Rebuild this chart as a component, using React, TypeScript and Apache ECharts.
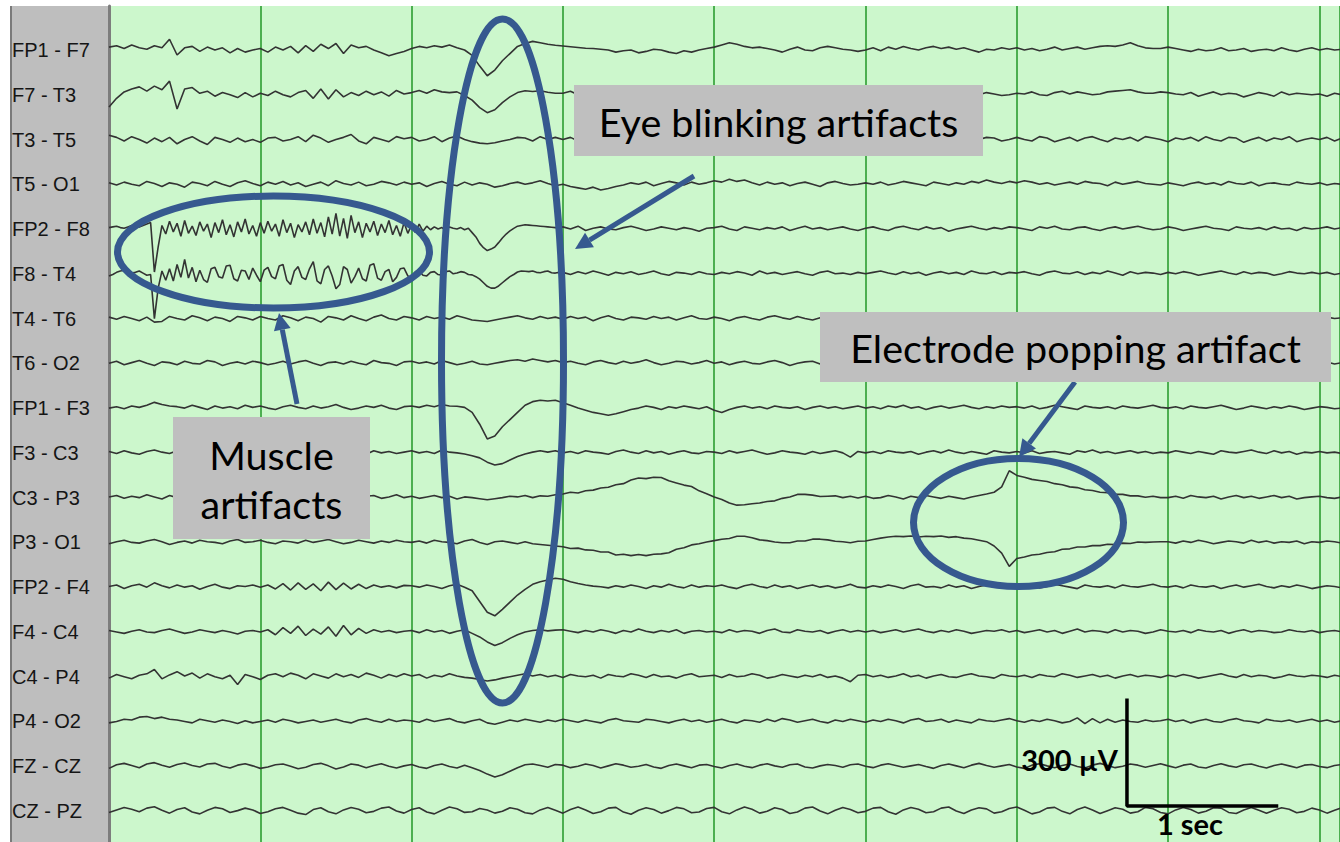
import React, { useEffect, useRef } from "react";
import * as echarts from "echarts";

const CHANNELS = ["FP1 - F7", "F7 - T3", "T3 - T5", "T5 - O1", "FP2 - F8", "F8 - T4", "T4 - T6", "T6 - O2", "FP1 - F3", "F3 - C3", "C3 - P3", "P3 - O1", "FP2 - F4", "F4 - C4", "C4 - P4", "P4 - O2", "FZ - CZ", "CZ - PZ"];
const STEP = 0.05; // seconds between samples (rows longer than 20 are sampled finer)
const SPACING = 125; // µV between channel baselines
const X_MAX = 8.136;
const Y_MIN = -86.6;
const Y_MAX = 2247.8;
const SCALE_T0 = 6.728;
const SCALE_V0 = 13.9;
const SCALE_UV = 300;
const SCALE_SEC = 1;

// µV values, one row per second
const FP1_F7 = [
  [8,12,4,14,6,2,12,6,30,-14,6,10,-4,8,0,6,-8,4,-6,0],
  [4,-6,8,0,10,-8,12,-4,16,4,18,-10,14,6,10,0,-8,-16,-10,-4],
  [4,10,6,12,8,14,6,0,-15,-45,-72,-56,-30,-10,10,18,24,20,16,13],
  [11,9,7,5,4,2,0,-6,-2,0,-8,-4,2,0,-6,-10,-2,-6,0,4],
  [8,14,20,16,10,6,8,4,0,-6,2,8,0,-2,6,10,6,2,0,-4],
  [0,6,-2,8,2,10,4,0,6,10,4,8,2,6,0,-6,2,0,6,2],
  [6,0,4,-2,2,8,0,4,8,2,6,10,12,10,14,20,12,6,4,4],
  [8,4,0,-4,2,-2,0,6,-2,0,4,-4,0,2,-2,6,0,-4,2,6],
  [0,4,0,2],
];
const F7_T3 = [
  [-34,-10,8,16,22,10,24,14,38,-40,16,20,4,10,-4,6,0,-8,6,-6],
  [4,-2,10,0,-6,6,12,-10,16,-12,14,-6,6,-2,10,0,8,-4,12,2],
  [6,12,4,14,8,6,8,-2,-15,-36,-50,-42,-22,-6,6,11,9,11,7,4],
  [4,10,0,8,2,-6,4,0,8,2,-4,6,0,10,4,-2,2,8,0,4],
  [2,8,0,-6,4,10,2,0,8,4,-4,2,0,-8,-2,6,0,2,8,4],
  [0,6,8,-2,2,0,6,10,2,8,0,4,-4,2,8,0,6,2,-2,0],
  [4,2,8,0,-2,6,10,2,8,4,0,2,8,10,12,14,8,4,4,8],
  [6,2,0,6,-4,2,8,0,4,2,-6,0,6,2,-4,8,0,4,2,0],
  [2,-4,4,0],
];
const T3_T5 = [
  [12,6,-4,8,0,-10,4,-6,6,-12,0,8,-4,-14,6,0,-8,4,-6,0],
  [-8,4,6,-4,0,8,-6,12,4,-8,0,6,14,-4,-12,6,0,-6,8,2],
  [6,-4,0,8,-6,4,10,0,-6,-10,-12,-9,-4,0,6,4,-4,8,0,6],
  [0,6,-4,8,4,-6,0,6,12,4,-4,8,0,-8,6,4,-6,0,8,-4],
  [4,-6,0,8,-4,6,0,-12,-4,6,4,-4,8,0,-6,4,6,-4,0,6],
  [-4,6,0,4,8,0,-6,4,-4,8,6,0,-6,4,-8,0,6,4,-4,0],
  [6,0,-4,8,4,-6,0,6,-4,4,8,0,-6,4,0,6,-4,8,4,0],
  [-6,4,0,6,-4,8,0,-4,6,4,-8,0,6,-4,4,0,8,-6,0,4],
  [0,6,-4,4],
];
const T5_O1 = [
  [4,-2,6,0,-4,8,2,-6,4,0,-8,6,2,-4,8,0,-6,4,10,2],
  [-4,6,0,8,-2,4,-6,0,6,-4,10,2,-2,6,-4,0,8,4,-2,6],
  [0,4,-6,2,8,0,-4,6,-2,4,0,-8,-4,2,6,0,4,10,2,-4],
  [0,-6,-10,-14,-8,-16,-12,-6,-2,4,0,6,-4,2,8,4,-2,6,0,4],
  [10,6,14,8,12,4,-2,6,0,4,-4,2,6,0,-6,4,8,2,-2,0],
  [4,0,6,-2,2,8,4,0,-4,6,2,-2,4,0,8,4,12,6,2,8],
  [4,10,6,0,4,-2,2,6,0,8,4,2,-4,6,0,4,8,2,0,-2],
  [4,0,-4,2,6,0,4,-2,8,2,0,6,-4,2,4,0,-2,6,2,0],
  [4,-2,2,0],
];
const FP2_F8 = [
  [4,6,8,4,2,6,10,8,6,10,14,18,-120,-50,10,-14,22,-8,16,-20,24,-12,8,-18,20,-6,14,-24,18,-10,26,-16,12,-22,20,-8,28,-14,10,-20],
  [18,-12,22,-6,14,-20,26,-10,16,-24,12,-8,20,-16,28,-12,18,-22,34,-14,44,-20,30,-26,38,-10,20,-24,16,-8,22,-18,14,-10,24,-16,10,-20,18,-12],
  [12,-10,14,-6,8,-2,6,0,4,-4,6,2,0,4,-2,2,-10,-22,-40,-52,-60,-56,-50,-38,-25,-14,-5,2,8,10,12,11,10,9,8,7,6,5,4,4],
  [6,0,8,-4,2,6,0,-2,4,8,2,-4,0,6,2,-2,4,0,-6,2],
  [4,8,0,-4,6,2,-2,4,0,6,-4,2,8,0,4,-2,2,6,0,-4],
  [2,6,0,-4,4,8,2,-2,6,0,4,-6,0,4,8,2,-2,4,0,6],
  [4,0,-4,6,2,8,0,-2,4,6,0,-4,2,6,0,4,8,2,-2,0],
  [6,2,-4,0,4,8,2,0,-4,6,2,0,4,-2,6,0,2,-4,4,0],
  [2,6,0,4],
];
const F8_T4 = [
  [-6,-2,4,8,10,6,2,4,8,2,-4,-2,-125,-40,8,-18,14,-20,26,-10,40,-12,18,-22,10,-16,-24,14,18,-8,-12,22,24,-14,-20,10,8,-16,16,-4],
  [-22,10,18,-8,-14,22,26,-18,-30,8,20,-10,-16,14,34,-20,-28,12,22,-6,-42,-30,20,12,-26,-8,16,-14,-20,24,28,-12,-18,6,12,-22,-10,14,16,-6],
  [-10,6,8,-4,-6,4,6,-2,-4,6,8,0,2,6,4,-2,-3,-8,-15,-25,-35,-40,-40,-34,-25,-16,-8,-2,5,8,7,6,8,4,3,6,8,3,2,4],
  [4,-2,6,0,8,2,-4,4,0,6,-2,2,8,0,-4,4,2,-2,6,0],
  [-2,4,0,6,2,-4,8,0,4,-2,2,6,0,-4,4,8,0,2,-2,4],
  [0,4,8,2,-2,6,0,4,-4,2,6,0,4,-2,8,2,0,6,-2,4],
  [2,6,0,-4,4,8,2,0,6,-2,4,0,8,2,-4,6,0,4,2,-2],
  [4,0,6,2,-4,0,4,8,2,-2,6,0,4,2,-4,0,6,2,0,4],
  [0,4,-2,2],
];
const T4_T6 = [
  [4,-2,6,0,-6,4,-10,-8,6,0,-4,8,2,-6,4,0,-8,6,2,-4],
  [6,0,-4,8,2,-6,4,0,-10,6,2,-4,8,0,-6,4,10,0,-4,6],
  [2,-4,6,0,4,-2,8,2,-4,-6,-8,-4,0,4,8,2,-2,6,0,4],
  [-2,6,0,4,-6,2,8,0,-4,4,2,-2,6,0,4,-4,2,8,0,-2],
  [4,0,-6,2,6,0,-4,4,8,2,-2,6,0,-4,2,4,-2,6,0,4],
  [0,6,2,-4,4,0,8,2,-2,4,6,0,-6,2,4,0,-4,6,2,0],
  [4,-2,6,0,2,-4,4,8,0,-2,6,2,0,4,-4,2,6,0,-2,4],
  [2,0,4,-4,6,2,0,-2,4,8,0,-4,2,6,0,4,-2,2,0,4],
  [-2,4,0,2],
];
const T6_O2 = [
  [0,6,-4,2,8,0,-6,4,2,-4,6,0,-2,8,4,-6,0,4,-2,6],
  [2,-4,0,6,-2,4,8,0,-6,2,4,-2,6,0,-4,8,2,0,-6,4],
  [6,0,4,-2,8,2,-4,0,6,-2,-4,0,4,8,10,6,12,8,4,8],
  [2,6,0,-4,4,8,2,-2,6,0,4,10,2,-4,0,6,4,-2,2,8],
  [0,4,-4,2,6,0,-2,4,8,2,-6,0,4,6,-2,2,0,4,-4,2],
  [6,0,4,-2,2,8,0,4,-4,2,6,0,-2,4,8,2,0,-4,6,2],
  [0,4,6,-2,2,0,8,4,-2,6,0,4,2,-4,0,6,2,-2,4,0],
  [4,-2,2,6,0,-4,4,2,8,0,-2,4,6,0,2,-4,4,0,6,2],
  [0,4,-2,2],
];
const FP1_F3 = [
  [0,4,-2,6,2,8,16,10,6,4,0,8,2,-4,6,0,4,-2,8,2],
  [6,0,-4,4,8,2,-2,6,0,4,10,2,-4,0,6,2,8,0,-4,4],
  [6,2,8,4,10,6,5,2,-12,-45,-86,-78,-52,-32,-12,8,18,22,20,22],
  [15,8,0,-6,-12,-16,-20,-16,-10,-4,0,6,2,-4,4,0,6,2,-2,4],
  [-6,-12,-4,2,6,0,4,-2,6,2,0,4,-4,2,6,0,4,-2,2,6],
  [0,4,-2,6,2,8,0,4,-4,2,6,0,4,8,2,-2,4,0,6,2],
  [4,0,6,-2,2,8,4,0,-4,6,2,0,4,-2,6,2,0,4,8,2],
  [0,4,-2,6,2,0,4,8,2,-4,0,6,2,-2,4,0,6,2,-4,0],
  [4,2,-2,0],
];
const F3_C3 = [
  [4,-2,6,0,-4,4,8,2,-2,6,0,-4,4,2,-6,0,4,8,2,-2],
  [0,6,-2,4,8,0,-4,6,2,-2,4,0,8,2,-4,6,0,4,-2,2],
  [6,0,4,-2,8,2,0,-3,-8,-14,-26,-34,-30,-20,-10,-3,2,6,2,6],
  [0,4,-2,6,2,0,-4,4,8,2,-2,6,0,4,-4,2,6,0,-2,4],
  [2,-2,6,0,4,8,2,-4,0,6,2,0,-4,4,-2,2,6,0,-12,4],
  [0,4,-2,6,2,0,4,-4,2,6,0,8,2,-2,4,0,-4,6,2,0],
  [4,0,6,-2,2,4,0,-4,6,2,8,0,4,-2,2,6,0,4,-2,2],
  [0,6,2,-2,4,0,-4,6,2,0,4,8,2,-2,6,0,4,-4,2,0],
  [4,0,2,-2],
];
const C3_P3 = [
  [2,6,-2,4,0,8,2,-4,6,0,4,-2,2,8,0,-4,6,2,0,4],
  [-2,4,0,6,2,-4,4,8,0,-2,6,2,-4,0,4,6,-2,2,8,0],
  [4,-2,2,6,0,4,-4,2,0,-3,-6,-3,0,4,2,6,0,5,4,8],
  [10,15,13,19,21,27,29,36,39,49,55,53,57,56,47,41,35,31,19,11],
  [2,-5,-15,-21,-20,-17,-15,-11,-9,-2,2,9,9,7,3,4,5,0,4,-1],
  [4,-2,0,6,2,-4,4,0,6,2,-2,4,0,-4,2,6,10,15,30,75],
  [62,57,51,48,45,39,36,30,28,22,20,15,14,9,9,5,5,1,4,0],
  [0,4,-2,6,2,0,4,-4,2,6,0,4,-2,2,6,0,4,-4,0,2],
  [4,0,-2,2],
];
const P3_O1 = [
  [-4,2,6,0,-2,4,8,2,-6,0,4,-2,6,2,0,-4,4,8,0,2],
  [6,0,-4,4,2,-2,6,0,4,8,2,-4,0,6,2,-2,4,0,6,2],
  [0,4,-2,6,2,0,-4,4,8,0,-6,2,4,0,-4,2,-4,-6,-8,-10],
  [-12,-17,-16,-21,-22,-27,-27,-35,-33,-37,-34,-37,-33,-32,-29,-19,-15,-7,-4,1],
  [5,9,11,17,17,13,7,5,1,-1,-1,4,4,9,9,7,3,2,-1,3],
  [4,8,12,15,17,16,18,15,17,16,18,14,16,12,10,6,2,-10,-30,-67],
  [-45,-41,-35,-33,-28,-26,-19,-18,-13,-13,-9,-9,-5,-6,-2,-3,1,0,1,2],
  [2,-2,4,0,6,2,-4,0,4,2,-2,6,0,4,-2,2,0,4,-4,2],
  [0,4,2,-2],
];
const FP2_F4 = [
  [2,6,-4,4,8,0,12,4,-2,6,0,4,-6,2,8,0,-4,4,2,6],
  [0,6,-5,10,-8,12,-6,9,-10,14,-7,11,-5,8,-4,6,0,4,-2,5],
  [4,0,6,2,-4,4,8,0,-10,-40,-70,-80,-62,-42,-22,-6,8,15,20,25],
  [22,15,10,6,3,1,-2,4,0,6,2,-4,4,0,8,2,-2,6,0,4],
  [2,6,0,-4,4,8,2,-2,6,0,4,-4,2,6,0,4,-2,2,8,0],
  [-2,4,0,6,2,-4,4,8,0,2,-2,6,0,4,-4,2,6,0,4,-2],
  [6,0,4,-2,2,8,4,0,-4,6,2,0,4,-2,6,2,0,4,8,2],
  [0,4,-2,6,2,0,4,-4,2,6,0,4,8,2,-2,4,0,6,2,-4],
  [0,4,2,-2],
];
const F4_C4 = [
  [4,0,-4,2,6,0,-2,4,8,2,-4,0,6,2,-2,4,0,-6,2,4],
  [0,6,-8,12,-4,16,-10,8,-6,14,-12,18,-8,10,-4,6,0,4,-2,2],
  [4,-2,6,0,4,-4,2,6,-4,-14,-28,-38,-30,-18,-8,0,4,6,3,5],
  [6,2,-2,4,0,6,2,-4,4,0,8,2,-2,4,0,6,-4,2,4,0],
  [2,-2,6,0,4,2,-4,4,8,0,-2,6,2,0,4,-4,2,6,0,4],
  [0,4,-2,2,6,0,4,8,2,-2,4,0,6,2,-4,0,4,2,6,0],
  [4,-2,2,6,0,4,-4,2,8,0,4,2,-2,6,0,4,2,-4,0,6],
  [2,0,4,-2,6,2,0,4,-4,2,6,0,4,2,-2,0,6,2,0,4],
  [-2,2,4,0],
];
const C4_P4 = [
  [-4,6,0,-6,4,8,20,-6,5,14,2,10,-4,8,0,-6,4,-22,6,0],
  [-8,4,8,0,10,4,-6,8,2,-4,8,0,6,-2,10,4,-4,6,0,8],
  [2,6,-4,4,0,8,2,-2,-4,-8,-12,-9,-4,0,4,8,2,6,0,4],
  [-2,6,2,0,4,-4,6,2,0,8,4,-2,6,0,2,-4,4,8,0,2],
  [4,-2,6,0,2,8,4,-4,0,6,2,-2,4,0,6,-2,2,-4,-14,4],
  [6,0,4,-2,2,8,0,4,-4,2,6,0,-2,4,8,2,0,-4,6,2],
  [0,4,-2,6,2,0,8,4,-2,2,6,0,4,-4,2,6,0,4,2,-2],
  [4,0,6,2,-4,0,4,8,2,-2,6,0,4,2,-4,0,6,2,0,4],
  [2,-2,4,0],
];
const P4_O2 = [
  [-4,0,6,4,12,14,8,12,6,4,0,-4,6,2,-2,4,0,-6,2,-4],
  [0,4,-2,6,2,-4,0,4,-2,2,6,0,-4,4,8,2,-2,6,0,4],
  [2,-2,6,0,4,8,0,-4,2,6,-4,-8,-2,4,0,6,2,-2,4,0],
  [6,2,-2,4,0,-4,4,8,2,0,-2,6,4,0,-4,2,6,0,4,-2],
  [2,6,0,-4,4,2,-2,6,0,8,4,-2,2,6,0,-4,4,0,6,2],
  [-2,4,0,6,2,-4,4,8,0,2,6,-2,4,0,-4,6,2,0,4,8],
  [2,-2,4,0,6,2,-4,0,10,-6,8,-4,6,-2,4,0,-2,4,0,2],
  [6,0,4,-4,2,6,0,-2,4,8,2,0,-4,6,2,0,4,-2,2,6],
  [0,4,-2,2],
];
const FZ_CZ = [
  [-6,4,8,2,-4,6,10,3,-3,5,9,2,-2,6,8,0,-5,3,7,1],
  [-6,-2,4,6,0,-7,-3,5,8,1,-8,-2,6,3,-4,2,7,0,-5,1],
  [5,-2,-6,2,6,-1,-5,3,-4,-12,-22,-30,-24,-14,-4,4,6,2,-3,5],
  [3,-4,0,6,2,-5,1,7,3,-3,0,5,-2,-6,2,6,1,-4,3,5],
  [-1,-5,2,6,0,-4,3,7,1,-3,4,6,-2,-5,1,5,2,-3,4,6],
  [0,-4,3,7,2,-3,1,5,-1,-6,2,6,1,-4,3,8,2,-3,1,5],
  [-2,-6,3,7,1,-4,2,6,-1,-5,3,8,2,-4,0,6,3,-3,2,7],
  [1,-4,3,6,-2,-5,2,7,1,-3,4,6,0,-5,2,6,1,-4,3,5],
  [-1,-4,2,5],
];
const CZ_PZ = [
  [-4,3,10,5,-2,8,12,2,-6,4,9,-3,-8,2,10,6,-4,1,8,3],
  [-7,-2,6,10,2,-6,-10,4,9,-2,-8,3,10,5,-5,-1,8,11,0,-6],
  [4,9,-3,-8,2,11,6,-4,-2,7,3,-6,-1,9,5,-5,-8,3,10,2],
  [-6,4,11,3,-7,-2,8,10,-3,-9,2,9,4,-6,1,10,6,-5,-3,7],
  [10,-2,-8,3,11,5,-6,-1,9,4,-7,-3,8,11,0,-8,2,10,4,-5],
  [-1,8,10,-2,-9,3,10,5,-5,-2,8,11,0,-7,3,9,6,-6,-2,7],
  [11,2,-8,-3,8,10,-1,-8,4,11,3,-7,1,9,5,-6,-2,10,6,-4],
  [-8,3,10,4,-6,-1,9,8,-4,-7,3,10,2,-6,2,9,5,-5,-1,8],
  [3,-6,2,9],
];

const TRACES = [FP1_F7, F7_T3, T3_T5, T5_O1, FP2_F8, F8_T4, T4_T6, T6_O2, FP1_F3, F3_C3, C3_P3, P3_O1, FP2_F4, F4_C4, C4_P4, P4_O2, FZ_CZ, CZ_PZ];

const BLUE = "#36598f";
const TRACE_COLOR = "#333333";
const ANNOT_FONT = "Lato, 'Open Sans', sans-serif";

function baseline(k: number) {
  return (CHANNELS.length - 1 - k) * SPACING;
}

function toPoints(secs: number[][], k: number) {
  const b = baseline(k);
  const pts: number[][] = [];
  secs.forEach((row, s) => {
    const step = row.length > 20 ? 1 / row.length : STEP;
    row.forEach((v, j) => pts.push([s + j * step, b + v]));
  });
  return pts;
}

function arrow(x1: number, y1: number, x2: number, y2: number) {
  const dx = x2 - x1;
  const dy = y2 - y1;
  const len = Math.hypot(dx, dy);
  const ux = dx / len;
  const uy = dy / len;
  const head = 17;
  const half = 8.5;
  const bx = x2 - ux * head;
  const by = y2 - uy * head;
  return [
    { type: "line", z: 120, shape: { x1, y1, x2: bx, y2: by }, style: { stroke: BLUE, lineWidth: 5 } },
    {
      type: "polygon",
      z: 120,
      shape: { points: [[x2, y2], [bx - uy * half, by + ux * half], [bx + uy * half, by - ux * half]] },
      style: { fill: BLUE },
    },
  ];
}

function ellipse(cx: number, cy: number, rx: number, ry: number) {
  return { type: "ellipse", z: 110, shape: { cx, cy, rx, ry }, style: { fill: "none", stroke: BLUE, lineWidth: 7 } };
}

function box(x: number, y: number, w: number, h: number) {
  return { type: "rect", z: 130, shape: { x, y, width: w, height: h }, style: { fill: "#bfbfbf" } };
}

function label(x: number, y: number, text: string, font: string, align = "center") {
  return { type: "text", z: 140, x, y, style: { text, fill: "#000", font, align, verticalAlign: "middle" } };
}

export default function App() {
  const ref = useRef<HTMLDivElement>(null);
  useEffect(() => {
    document.body.style.margin = "0";
    const chart = echarts.init(ref.current!, null, { renderer: "svg" });
    const series: any[] = TRACES.map((secs, k) => ({
      type: "line",
      name: CHANNELS[k],
      data: toPoints(secs, k),
      symbol: "none",
      silent: true,
      lineStyle: { color: TRACE_COLOR, width: 1.6 },
      z: 5,
    }));
    series.push({
      type: "line",
      data: [
        [SCALE_T0, SCALE_V0 + SCALE_UV],
        [SCALE_T0, SCALE_V0],
        [SCALE_T0 + SCALE_SEC, SCALE_V0],
      ],
      symbol: "none",
      silent: true,
      lineStyle: { color: "#000", width: 3.5 },
      z: 20,
    });
    const option: any = {
      animation: false,
      backgroundColor: "#ffffff",
      grid: { left: 109, right: 0, top: 6, bottom: 0, show: true, backgroundColor: "#ccf7cc", borderWidth: 0 },
      xAxis: {
        type: "value",
        min: 0,
        max: X_MAX,
        interval: 1,
        axisLine: { show: false },
        axisTick: { show: false },
        axisLabel: { show: false },
        splitLine: { show: true, lineStyle: { color: "#4caf50", width: 2 } },
      },
      yAxis: {
        type: "value",
        min: Y_MIN,
        max: Y_MAX,
        axisLine: { show: true, onZero: false, lineStyle: { color: "#7d7d7d", width: 3 } },
        axisTick: { show: false },
        splitLine: { show: false },
        axisLabel: {
          customValues: CHANNELS.map((_, k) => baseline(k)),
          formatter: (v: number) => CHANNELS[CHANNELS.length - 1 - Math.round(v / SPACING)] ?? "",
          align: "left",
          margin: 97,
          color: "#151515",
          fontSize: 20,
          fontFamily: "'Liberation Sans', Arial, sans-serif",
        },
      },
      series,
      graphic: [
        { type: "rect", z: -10, shape: { x: 10, y: 6, width: 99, height: 836 }, style: { fill: "#bebebe" } },
        { type: "line", z: -9, shape: { x1: 11, y1: 6, x2: 11, y2: 842 }, style: { stroke: "#7a7a7a", lineWidth: 2 } },
        ellipse(273.5, 252, 156, 56),
        ellipse(502.5, 361, 61, 342),
        ellipse(1018.5, 522.5, 105, 64),
        ...arrow(694, 176, 575, 249),
        ...arrow(297, 404, 279, 313),
        ...arrow(1075, 382, 1019, 457),
        box(574, 85, 409, 71),
        label(778.5, 121, "Eye blinking artifacts", `39.5px ${ANNOT_FONT}`),
        box(820, 312, 511, 70),
        label(1075.5, 347, "Electrode popping artifact", `39.5px ${ANNOT_FONT}`),
        box(173, 417, 197, 122),
        label(271.5, 454, "Muscle", `39.5px ${ANNOT_FONT}`),
        label(271.5, 503, "artifacts", `39.5px ${ANNOT_FONT}`),
        label(1118, 759, "300 µV", `bold 29px ${ANNOT_FONT}`, "right"),
        label(1190, 823, "1 sec", `bold 29px ${ANNOT_FONT}`),
      ],
    };
    chart.setOption(option);
    return () => chart.dispose();
  }, []);
  return <div ref={ref} style={{ width: 1340, height: 842 }} />;
}
